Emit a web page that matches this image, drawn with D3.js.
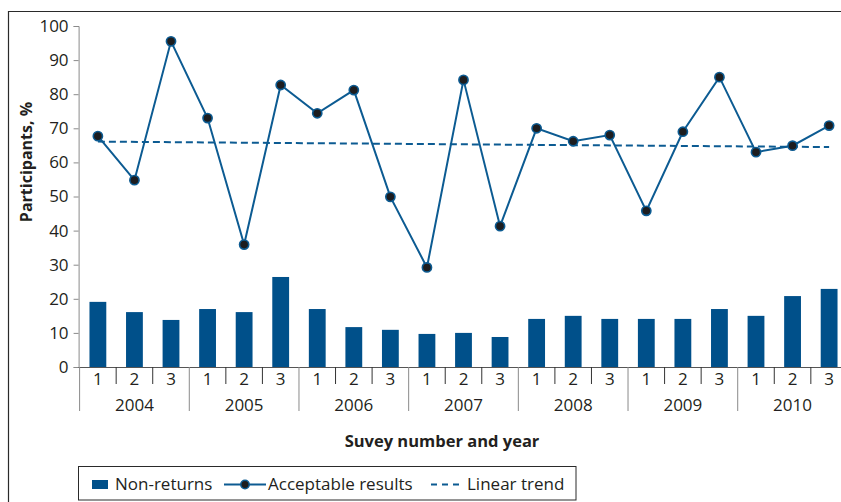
<!DOCTYPE html>
<html>
<head>
<meta charset="utf-8">
<script src="https://cdn.jsdelivr.net/npm/d3@7/dist/d3.min.js"></script>
<style>
  html, body { margin: 0; padding: 0; background: #fff; }
  svg { display: block; }
  text { font-family: "Open Sans", "Noto Sans", sans-serif; fill: #231f20; }
</style>
</head>
<body>
<svg id="chart" width="841" height="502"></svg>
<script>
const years = ["2004", "2005", "2006", "2007", "2008", "2009", "2010"];
const surveys = ["1", "2", "3"];
const nonReturns = [19.1, 16.1, 13.8, 17.0, 16.1, 26.4, 17.0, 11.7, 10.9, 9.7, 10.0, 8.8, 14.1, 15.0, 14.1, 14.1, 14.1, 17.0, 15.0, 20.8, 22.9];
const acceptable = [67.7, 54.8, 95.5, 73.0, 35.9, 82.7, 74.4, 81.2, 49.9, 29.2, 84.2, 41.3, 70.0, 66.2, 68.0, 45.8, 69.0, 85.0, 63.0, 64.9, 70.8];
const trendEnds = [66.1, 64.5];
const yTicks = [0, 10, 20, 30, 40, 50, 60, 70, 80, 90, 100];
const legendLabels = ["Non-returns", "Acceptable results", "Linear trend"];

const barColor = "#00508a";
const lineColor = "#0c5b92";
const FS = 17;

const cats = [];
years.forEach(y => surveys.forEach(s => cats.push(y + "-" + s)));

const svg = d3.select("#chart");

// outer frame (cropped at right/bottom)
svg.append("path")
  .attr("d", "M8.5,502 L8.5,11.5 L841,11.5")
  .attr("fill", "none").attr("stroke", "#2a2a2a").attr("stroke-width", 1.2);

const x0 = 79.6, x1 = 847.4;
const x = d3.scaleBand().domain(cats).range([x0, x1]).paddingInner(0.54).paddingOuter(0.27);
const step = x.step();
const y = d3.scaleLinear().domain([0, 100]).range([367, 26]);

// y axis
const yAxis = svg.append("g").attr("transform", `translate(${x0 - 1},0)`)
  .call(d3.axisLeft(y).tickValues(yTicks).tickSize(5).tickPadding(5));
yAxis.select(".domain").attr("stroke", "#8a8a8a");
yAxis.selectAll(".tick line").attr("stroke", "#8a8a8a");
yAxis.selectAll(".tick text").attr("font-size", FS).attr("fill", "#231f20")
  .style("font-family", '"Open Sans", sans-serif');

// bars
svg.append("g").selectAll("rect").data(nonReturns).join("rect")
  .attr("x", (d, i) => x(cats[i]))
  .attr("width", x.bandwidth())
  .attr("y", d => y(d))
  .attr("height", d => y(0) - y(d))
  .attr("fill", barColor);

// x axis line
svg.append("line").attr("x1", x0 - 1).attr("x2", 841).attr("y1", y(0) + 0.5).attr("y2", y(0) + 0.5)
  .attr("stroke", "#555").attr("stroke-width", 1.2);

// sub ticks (within years) and year separators
cats.forEach((c, i) => {
  const left = x0 + i * step;
  const isYearStart = i % 3 === 0;
  svg.append("line")
    .attr("x1", left).attr("x2", left)
    .attr("y1", y(0)).attr("y2", isYearStart ? 411 : 384)
    .attr("stroke", isYearStart ? "#8a8a8a" : "#333").attr("stroke-width", 1);
  svg.append("text")
    .attr("x", x(c) + x.bandwidth() / 2).attr("y", 384.5)
    .attr("text-anchor", "middle").attr("font-size", FS)
    .text(surveys[i % 3]);
});
years.forEach((yr, k) => {
  svg.append("text")
    .attr("x", x0 + (k * 3 + 1.5) * step).attr("y", 410.5)
    .attr("text-anchor", "middle").attr("font-size", FS)
    .text(yr);
});

// trend line
const xc = i => x(cats[i]) + x.bandwidth() / 2;
svg.append("line")
  .attr("x1", xc(0)).attr("x2", xc(cats.length - 1))
  .attr("y1", y(trendEnds[0])).attr("y2", y(trendEnds[1]))
  .attr("stroke", lineColor).attr("stroke-width", 2).attr("stroke-dasharray", "7,4");

// acceptable results line
const line = d3.line().x((d, i) => xc(i)).y(d => y(d));
svg.append("path").datum(acceptable)
  .attr("d", line).attr("fill", "none")
  .attr("stroke", lineColor).attr("stroke-width", 2);
svg.append("g").selectAll("circle").data(acceptable).join("circle")
  .attr("cx", (d, i) => xc(i)).attr("cy", d => y(d)).attr("r", 4.6)
  .attr("fill", "#1d1d1f").attr("stroke", lineColor).attr("stroke-width", 1.6);

// axis titles
svg.append("text")
  .attr("transform", `translate(31.5,162) rotate(-90)`)
  .attr("text-anchor", "middle").attr("font-size", 16).attr("font-weight", "bold")
  .text("Participants, %");
svg.append("text")
  .attr("x", 442).attr("y", 447)
  .attr("text-anchor", "middle").attr("font-size", 16.5).attr("font-weight", "bold")
  .text("Suvey number and year");

// legend
const lg = svg.append("g");
lg.append("rect").attr("x", 78.5).attr("y", 466.5).attr("width", 497.5).attr("height", 33.5)
  .attr("fill", "#fff").attr("stroke", "#2a2a2a").attr("stroke-width", 1);
lg.append("rect").attr("x", 92).attr("y", 480).attr("width", 16).attr("height", 9).attr("fill", barColor);
lg.append("text").attr("x", 115).attr("y", 490).attr("font-size", FS).text(legendLabels[0]);
lg.append("line").attr("x1", 224).attr("x2", 266).attr("y1", 484.5).attr("y2", 484.5)
  .attr("stroke", lineColor).attr("stroke-width", 2);
lg.append("circle").attr("cx", 245).attr("cy", 484.5).attr("r", 4.2)
  .attr("fill", "#1d1d1f").attr("stroke", lineColor).attr("stroke-width", 1.5);
lg.append("text").attr("x", 268).attr("y", 490).attr("font-size", FS).text(legendLabels[1]);
lg.append("line").attr("x1", 431).attr("x2", 463).attr("y1", 484.5).attr("y2", 484.5)
  .attr("stroke", lineColor).attr("stroke-width", 2).attr("stroke-dasharray", "6,5");
lg.append("text").attr("x", 467).attr("y", 490).attr("font-size", FS).text(legendLabels[2]);
</script>
</body>
</html>
